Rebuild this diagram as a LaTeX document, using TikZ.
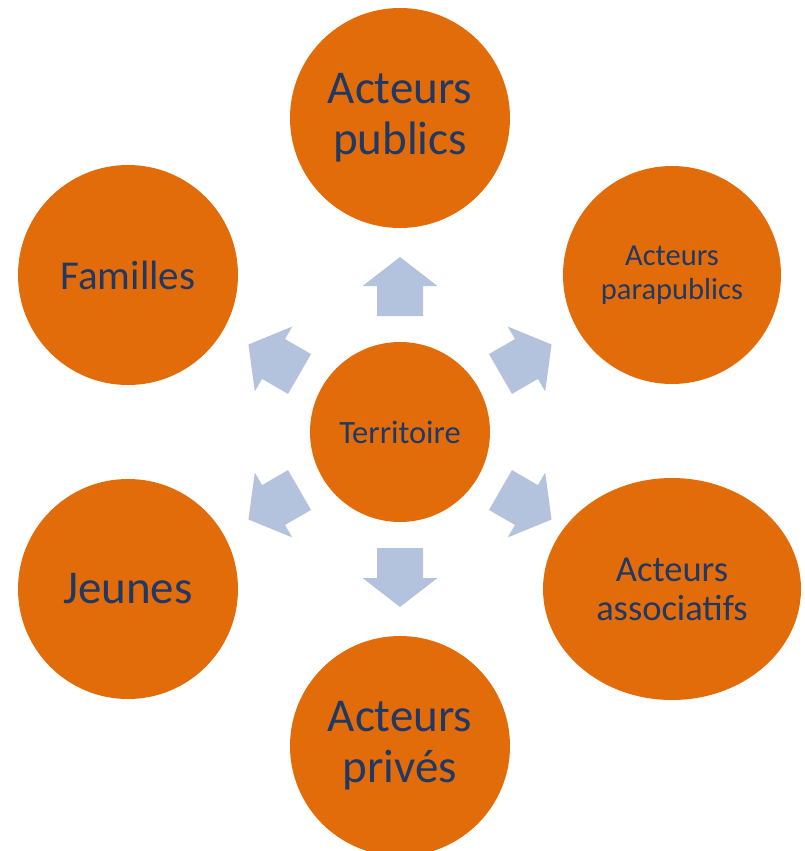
\documentclass[tikz,border=0pt]{standalone}
\usepackage{fontspec}
\setmainfont{Carlito}
\usetikzlibrary{shapes.geometric}
\definecolor{orangefill}{RGB}{227,108,10}
\definecolor{navytext}{RGB}{31,56,100}
\definecolor{arrowblue}{RGB}{179,195,222}
\tikzset{
  bubble/.style={circle, fill=orangefill, draw=none, inner sep=0pt, minimum size=#1, text=navytext, align=center},
  oval/.style={ellipse, fill=orangefill, draw=none, inner sep=0pt, text=navytext, align=center},
  blockarrow/.style={fill=arrowblue, draw=none},
  bigtxt/.style={font=\fontsize{47}{51}\selectfont},
  midtxt/.style={font=\fontsize{36.5}{39}\selectfont},
  smalltxt/.style={font=\fontsize{30.5}{34}\selectfont},
}
\begin{document}
\begin{tikzpicture}[x=1pt,y=1pt]
\useasboundingbox (0,0) rectangle (805,-851);
\begin{scope}
\clip (0,0) rectangle (805,-851);
% outward block arrows
\foreach \ang in {90,30,-30,-90,-150,150} {
  \begin{scope}[shift={(400,-432)}, rotate=\ang]
    \fill[blockarrow] (116,-23) -- (146,-23) -- (146,-37.5) -- (175,0) -- (146,37.5) -- (146,23) -- (116,23) -- cycle;
  \end{scope}
}
\node[bubble=180pt, font=\fontsize{32.5}{36}\selectfont] (center) at (400,-432) {Territoire};
\node[bubble=220pt, bigtxt] (publics) at (400,-118) {Acteurs\\publics};
\node[bubble=218pt, smalltxt] (parapublics) at (672,-275) {Acteurs\\parapublics};
\node[oval, minimum width=258pt, minimum height=222pt, midtxt] (associatifs) at (672,-589) {Acteurs\\associatifs};
\node[bubble=220pt, bigtxt] (prives) at (400,-746) {Acteurs\\privés};
\node[bubble=220pt, bigtxt] (jeunes) at (128,-589) {Jeunes};
\node[bubble=220pt, font=\fontsize{41}{45}\selectfont] (familles) at (128,-275) {Familles};
\end{scope}
\end{tikzpicture}
\end{document}
